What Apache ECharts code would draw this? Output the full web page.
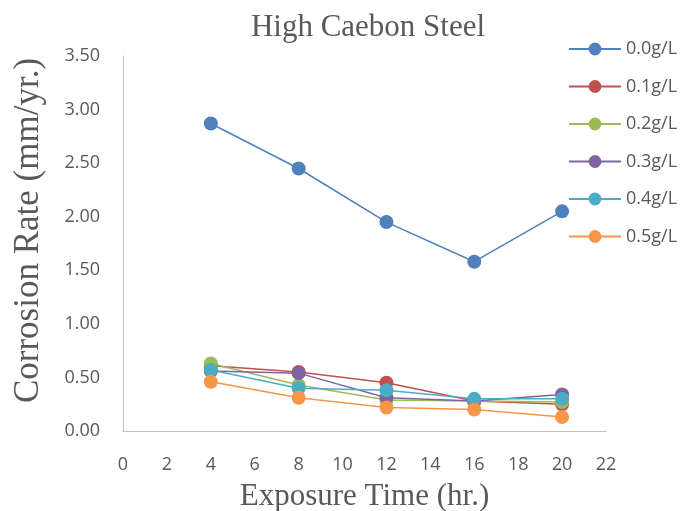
<!DOCTYPE html>
<html>
<head>
<meta charset="utf-8">
<script src="https://cdn.jsdelivr.net/npm/echarts@6/dist/echarts.min.js"></script>
<style>
  html, body { margin: 0; padding: 0; background: #fff; }
  #chart { width: 694px; height: 511px; }
</style>
</head>
<body>
<div id="chart"></div>
<script>
// Exposure times (hr.) at which corrosion rate was measured
const hours = [4, 8, 12, 16, 20];

// Corrosion rate (mm/yr.) per inhibitor concentration
const rate00 = [2.87, 2.45, 1.95, 1.58, 2.05];
const rate01 = [0.61, 0.55, 0.45, 0.28, 0.25];
const rate02 = [0.63, 0.43, 0.29, 0.28, 0.27];
const rate03 = [0.56, 0.54, 0.31, 0.28, 0.34];
const rate04 = [0.57, 0.40, 0.38, 0.30, 0.30];
const rate05 = [0.46, 0.31, 0.22, 0.20, 0.13];

const seriesNames = ['0.0g/L', '0.1g/L', '0.2g/L', '0.3g/L', '0.4g/L', '0.5g/L'];
const seriesValues = [rate00, rate01, rate02, rate03, rate04, rate05];
const colors = ['#4F81BD', '#C0504D', '#9BBB59', '#8064A2', '#4BACC6', '#F79646'];

const textGray = '#595959';
const sans = '"Open Sans", "Liberation Sans", sans-serif';
const serif = '"Liberation Serif", "DejaVu Serif", serif';

const chart = echarts.init(document.getElementById('chart'), null, { renderer: 'canvas' });

chart.setOption({
  animation: false,
  color: colors,
  title: {
    text: 'High Caebon Steel',
    left: 363,
    top: 7,
    textAlign: 'center',
    textStyle: { fontFamily: serif, fontSize: 31, fontWeight: 'normal', color: textGray }
  },
  legend: {
    orient: 'vertical',
    left: 563,
    top: 35,
    itemWidth: 52,
    itemHeight: 16,
    itemGap: 19.5,
    textStyle: { fontFamily: sans, fontSize: 18, color: textGray },
    data: seriesNames
  },
  grid: {
    left: 123,
    top: 56,
    width: 483,
    height: 375,
    containLabel: false,
    outerBoundsMode: 'none'
  },
  xAxis: {
    type: 'value',
    min: 0,
    max: 22,
    interval: 2,
    name: 'Exposure Time (hr.)',
    nameLocation: 'middle',
    nameGap: 50,
    nameTextStyle: { fontFamily: serif, fontSize: 31, color: textGray },
    axisLine: { show: true, lineStyle: { color: '#BFBFBF', width: 1 } },
    axisTick: { show: false },
    splitLine: { show: false },
    axisLabel: { fontFamily: sans, fontSize: 18, color: textGray, margin: 25 }
  },
  yAxis: {
    type: 'value',
    min: 0,
    max: 3.5,
    interval: 0.5,
    name: 'Corrosion Rate (mm/yr.)',
    nameLocation: 'middle',
    nameGap: 77,
    // shifted a little above the axis midpoint
    nameTextStyle: { fontFamily: serif, fontSize: 35, color: textGray, padding: [0, 0, 0, 26] },
    axisLine: { show: true, lineStyle: { color: '#BFBFBF', width: 1 } },
    axisTick: { show: false },
    splitLine: { show: false },
    axisLabel: {
      fontFamily: sans, fontSize: 18, color: textGray, margin: 23,
      formatter: v => v.toFixed(2)
    }
  },
  series: seriesNames.map((name, i) => ({
    name: name,
    type: 'line',
    data: hours.map((h, j) => [h, seriesValues[i][j]]),
    symbol: 'circle',
    symbolSize: 14,
    showAllSymbol: true,
    lineStyle: { width: 1.5, color: colors[i] },
    itemStyle: { color: colors[i] }
  }))
});
</script>
</body>
</html>
